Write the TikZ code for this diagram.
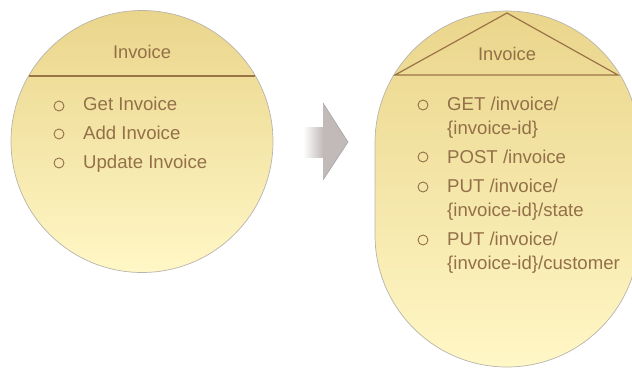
\documentclass[tikz,border=0pt]{standalone}
\usepackage{fontspec}
\setmainfont{Liberation Sans}
\usetikzlibrary{positioning}
\definecolor{blobTop}{HTML}{EAD58B}
\definecolor{blobBottom}{HTML}{FFF7C6}
\definecolor{blobEdge}{HTML}{B8B4AC}
\definecolor{inkBrown}{HTML}{937048}
\definecolor{ruleBrown}{HTML}{9A7347}
\definecolor{arrowGray}{HTML}{C2B9B9}

\begin{document}
\begin{tikzpicture}[
    x=1pt, y=1pt,
    blob/.style={draw=blobEdge, line width=0.7pt, top color=blobTop,
                 bottom color=blobBottom, inner sep=0pt},
    title/.style={font=\fontsize{18.3}{24}\selectfont\color{inkBrown}, inner sep=0pt},
    item/.style={font=\fontsize{18.6}{24}\selectfont\color{inkBrown}, inner sep=0pt,
                 anchor=base west},
    dot/.style={circle, draw=inkBrown, line width=0.9pt, minimum size=10pt, inner sep=0pt},
    sep/.style={draw=ruleBrown, line width=1.6pt}
  ]
    \useasboundingbox (0,0) rectangle (632,368);

    % before: one circle
    \node[blob, circle, minimum size=262pt] (old) at (142,226.5) {};
    \coordinate (oldL) at (29,292);
    \coordinate (oldR) at (255,292);
    \draw[sep] (oldL) -- (oldR);
    \node[title] (oldT) at (142,316) {Invoice};

    \node[dot] (b1) at (59,262) {};
    \node[dot] (b2) at (59,234) {};
    \node[dot] (b3) at (59,205) {};
    \node[item] (i1) at (83,258) {Get Invoice};
    \node[item] (i2) at (83,229) {Add Invoice};
    \node[item] (i3) at (83,200) {Update Invoice};

    % arrow
    \shade[left color=white, right color=arrowGray] (303,211) rectangle (323.5,241);
    \fill[arrowGray] (323,265) -- (348,226) -- (323,188) -- cycle;
    \draw[black!35, line width=0.6pt] (323,265) -- (348,226) -- (323,188);

    % after: resource
    \node[blob, rectangle, rounded corners=132pt, minimum width=264pt,
          minimum height=356pt] (new) at (507,179) {};
    \coordinate (roof) at (507,355);
    \coordinate (eaveL) at (395,293);
    \coordinate (eaveR) at (618,293);
    \draw[ruleBrown, line width=1.2pt, line join=miter] (eaveR) -- (roof) -- (eaveL) -- cycle;
    \node[title] (newT) at (507,314) {Invoice};

    \node[dot] (c1) at (423,263) {};
    \node[dot] (c2) at (423,211) {};
    \node[dot] (c3) at (423,181) {};
    \node[dot] (c4) at (423,128) {};
    \node[item] (r1) at (447,258) {GET /invoice/};
    \node[item] (r1b) at (447,234) {\{invoice-id\}};
    \node[item] (r2) at (447,205) {POST /invoice};
    \node[item] (r3) at (447,176) {PUT /invoice/};
    \node[item] (r3b) at (447,152) {\{invoice-id\}/state};
    \node[item] (r4) at (447,123) {PUT /invoice/};
    \node[item] (r4b) at (447,99) {\{invoice-id\}/customer};
  \end{tikzpicture}
\end{document}
